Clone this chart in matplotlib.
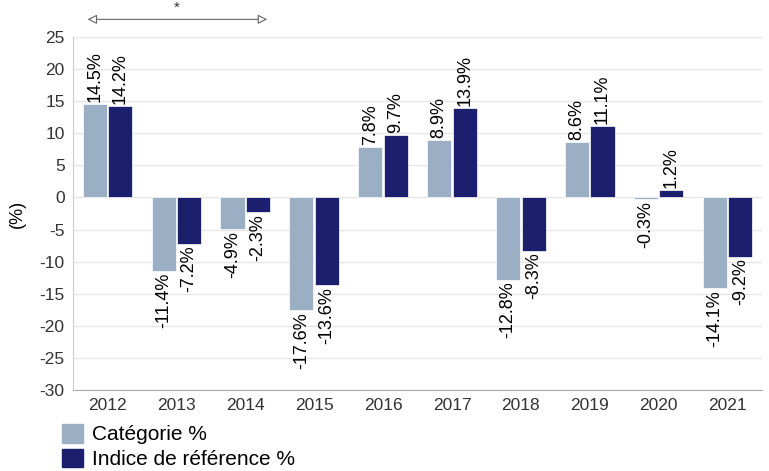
import numpy as np
import matplotlib.pyplot as plt
from matplotlib.patches import Patch

plt.rcParams['font.family'] = ['Liberation Sans', 'DejaVu Sans']
plt.rcParams['axes.unicode_minus'] = False

years = ['2012', '2013', '2014', '2015', '2016', '2017', '2018', '2019', '2020', '2021']
categorie = [14.5, -11.4, -4.9, -17.6, 7.8, 8.9, -12.8, 8.6, -0.3, -14.1]
indice = [14.2, -7.2, -2.3, -13.6, 9.7, 13.9, -8.3, 11.1, 1.2, -9.2]

light = '#9bafc4'
dark = '#1c1f6e'

fig = plt.figure(figsize=(7.69, 4.71), dpi=100)
ax = fig.add_axes([73/769, 1-390/471, 689/769, 353/471])

x = np.arange(len(years))
w = 0.35
ax.bar(x - w/2 - 0.01, categorie, w, color=light, edgecolor='white', linewidth=0.5, zorder=3)
ax.bar(x + w/2 + 0.01, indice, w, color=dark, edgecolor='white', linewidth=0.5, zorder=3)

for xs, vals in [(x - w/2 - 0.01, categorie), (x + w/2 + 0.01, indice)]:
    for xi, v in zip(xs, vals):
        lab = f'{v:.1f}%'
        if v >= 0:
            ax.text(xi, v + 0.3, lab, rotation=90, ha='center', va='bottom', fontsize=13)
        else:
            ax.text(xi, v - 0.3, lab, rotation=90, ha='center', va='top', fontsize=13)

ax.set_xlim(-0.5, 9.5)
ax.set_ylim(-30, 25)
ax.set_yticks(np.arange(-30, 26, 5))
ax.set_xticks(x)
ax.set_xticklabels(years)
ax.tick_params(axis='both', length=0, labelsize=12.5, colors='#333333', pad=6)
ax.grid(axis='y', color='#e6e6e6', linewidth=1, zorder=0)
for s in ['top', 'right']:
    ax.spines[s].set_visible(False)
ax.spines['left'].set_color('#cccccc')
ax.spines['bottom'].set_color('#aaaaaa')
ax.set_ylabel('(%)', fontsize=13, labelpad=10)

# arrow above the chart
ax.annotate('', xy=(2.36, 1.05), xytext=(-0.33, 1.05),
            xycoords=('data', 'axes fraction'), textcoords=('data', 'axes fraction'),
            arrowprops=dict(arrowstyle='<|-|>', ec='#666666', fc='white', lw=0.8,
                            mutation_scale=14),
            annotation_clip=False)
fig.text(177/769, 1-1/471, '*', ha='center', va='top', fontsize=11, color='#333333')

handles = [Patch(color=light), Patch(color=dark)]
fig.legend(handles, ['Catégorie %', 'Indice de référence %'], loc='upper left',
           bbox_to_anchor=(62/769, 1-424/471), frameon=False, fontsize=15,
           handlelength=1.0, handleheight=1.0, handletextpad=0.45, labelspacing=0.2,
           borderaxespad=0, borderpad=0)

fig.savefig('out.png', dpi=100)
